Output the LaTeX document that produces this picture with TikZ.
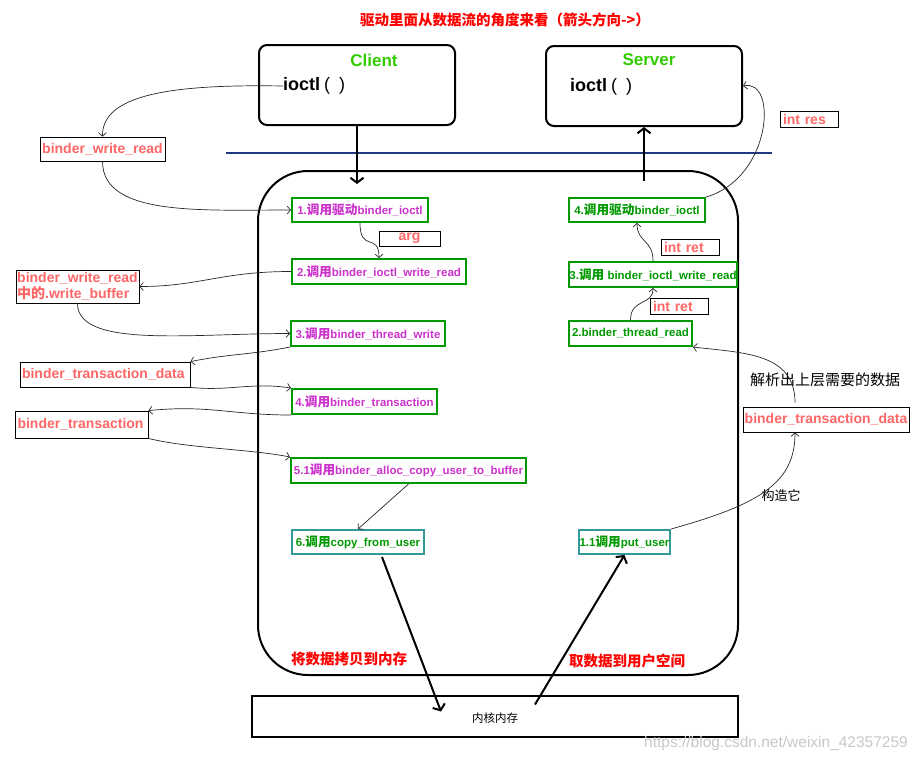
\documentclass[tikz,border=0pt]{standalone}
\usepackage{fontspec}
\setmainfont{Liberation Sans}
\newfontfamily\cjk{Noto Sans CJK SC}
\newfontfamily\cjkbox[Scale=1.1]{Noto Sans CJK SC}
\usetikzlibrary{arrows.meta,calc}
\newcommand{\zh}[1]{{\cjk #1}}
\newcommand{\zb}[1]{{\cjkbox #1}}
\definecolor{lblred}{RGB}{255,102,102}
\definecolor{titlered}{RGB}{255,0,0}
\definecolor{cgreen}{RGB}{51,204,0}
\definecolor{magentatext}{RGB}{204,51,204}
\definecolor{boxgreen}{RGB}{0,153,0}
\definecolor{tealbox}{RGB}{51,153,153}
\definecolor{navyline}{RGB}{31,56,128}
\definecolor{linkgrey}{RGB}{40,40,40}
\definecolor{wmgrey}{RGB}{200,200,200}
\begin{document}
\begin{tikzpicture}[x=1pt,y=-1pt,
  lbl/.style={draw=black, line width=0.8pt, text=lblred, font=\bfseries\fontsize{14}{16}\selectfont, inner sep=0pt},
  smalllbl/.style={draw=black, line width=0.8pt, text=lblred, font=\bfseries\fontsize{14}{14}\selectfont, inner sep=0pt, minimum height=16pt, minimum width=58pt},
  gbox/.style={draw=boxgreen, line width=2pt, font=\bfseries\fontsize{11.5}{13}\selectfont, inner sep=0pt, minimum height=24pt},
  tbox/.style={draw=tealbox, line width=2pt, text=boxgreen, font=\bfseries\fontsize{11.5}{13}\selectfont, inner sep=0pt, minimum height=24pt},
  proc/.style={draw=black, line width=2pt, rounded corners=8pt, minimum width=196pt, minimum height=80pt},
  lnk/.style={draw=linkgrey, line width=0.7pt, -{Straight Barb[length=3.5pt,width=8pt]}},
  bigarrow/.style={draw=black, line width=2pt, -{Straight Barb[length=5pt,width=13pt,line width=2pt]}},
  note/.style={font=\cjk\fontsize{15}{17}\selectfont}
]
\useasboundingbox (0,0) rectangle (921,761);
\fill[white] (0,0) rectangle (921,761);

% title
\node[font=\cjk\bfseries\fontsize{14.5}{16}\selectfont, text=titlered] (title) at (505,20) {驱动里面从数据流的角度来看（箭头方向->）};

% client / server
\node[proc] (client) at (357,85) {};
\node[font=\bfseries\fontsize{17}{19}\selectfont, text=cgreen] (clientT) at (374,60) {Client};
\node[anchor=west, inner sep=0pt, font=\bfseries\fontsize{18}{20}\selectfont] (cioctl) at (283,86) {ioctl\hspace{4pt}{\mdseries(\hspace{9pt})}};
\node[proc] (server) at (644,86) {};
\node[font=\bfseries\fontsize{17}{19}\selectfont, text=cgreen] (serverT) at (649,60) {Server};
\node[anchor=west, inner sep=0pt, font=\bfseries\fontsize{18}{20}\selectfont] (sioctl) at (570,87) {ioctl\hspace{4pt}{\mdseries(\hspace{9pt})}};

% separator
\draw[navyline, line width=2pt] (226,153) -- (772,153);

% kernel space container
\draw[line width=2pt, rounded corners=50pt] (258,171) rectangle (738,675);

% kernel memory
\node[draw, line width=2pt, minimum width=486pt, minimum height=41pt] (kernel) at (495,716.5) {};
\node[font=\cjk\fontsize{11.5}{13}\selectfont] (kernelT) at (495,718) {内核内存};

% left labels
\node[lbl, minimum width=125pt, minimum height=24pt] (bwr) at (102.5,149) {binder\_write\_read};
\node[lbl, minimum width=123pt, minimum height=33pt, align=left] (bwrwb) at (77.5,286.5) {binder\_write\_read\\\zh{中的}.write\_buffer};
\node[lbl, minimum width=170pt, minimum height=25pt, text width=166pt, align=left] (btd) at (105,374.5) {binder\_transaction\_data};
\node[lbl, minimum width=133pt, minimum height=27pt, text width=128pt, align=left] (bt) at (81.5,424.5) {binder\_transaction};

% right labels
\node[lbl, minimum width=166pt, minimum height=25pt] (btd2) at (826,419.5) {binder\_transaction\_data};
\node[smalllbl, text width=52pt, align=left] (ires) at (809,119) {int res};
\node[smalllbl, text width=52pt, align=left] (iret1) at (690,247) {int ret};
\node[smalllbl, text width=52pt, align=left] (iret2) at (679,306) {int ret};
\node[smalllbl, minimum width=61pt, minimum height=15pt] (arg) at (409.5,238.5) {arg};

% left column steps
\node[gbox, text=magentatext, minimum width=136pt] (s1) at (360,210) {1.\zb{调用驱动}binder\_ioctl};
\node[gbox, text=magentatext, minimum width=174pt, minimum height=25pt] (s2) at (379,271.5) {2.\zb{调用}binder\_ioctl\_write\_read};
\node[gbox, text=magentatext, minimum width=154pt, minimum height=25pt] (s3) at (368,333.5) {3.\zb{调用}binder\_thread\_write};
\node[gbox, text=magentatext, minimum width=145pt, minimum height=25pt] (s4) at (364.5,401.5) {4.\zb{调用}binder\_transaction};
\node[gbox, text=magentatext, minimum width=235pt, minimum height=25pt] (s51) at (408.5,470.5) {5.1\zb{调用}binder\_alloc\_copy\_user\_to\_buffer};
\node[tbox, minimum width=132pt] (cfu) at (358,542) {6.\zb{调用}copy\_from\_user};

% right column steps
\node[gbox, text=boxgreen, minimum width=136pt] (s4r) at (637,210) {4.\zb{调用驱动}binder\_ioctl};
\node[gbox, text=boxgreen, minimum width=168pt, minimum height=25pt] (s3r) at (653,274.5) {3.\zb{调用} binder\_ioctl\_write\_read};
\node[gbox, text=boxgreen, minimum width=123pt, minimum height=25pt] (s2r) at (630.5,333.5) {2.binder\_thread\_read};
\node[tbox, minimum width=91pt] (pu) at (624.5,542) {1.1\zb{调用}put\_user};

% notes
\node[note, text=titlered, font=\cjk\bfseries\fontsize{14.5}{16}\selectfont] (copyT) at (349,659) {将数据拷贝到内存};
\node[note, text=titlered, font=\cjk\bfseries\fontsize{14.5}{16}\selectfont] (fetchT) at (627,661) {取数据到用户空间};
\node[note] (parseT) at (825,380) {解析出上层需要的数据};
\node[note, font=\cjk\fontsize{13}{15}\selectfont] (buildT) at (781,496) {构造它};

% watermark
\node[text=wmgrey, font=\fontsize{15.5}{17}\selectfont] (wm) at (776,743) {https://blog.csdn.net/weixin\_42357259};

% coordinates
\coordinate (cin) at (357,184);
\coordinate (sout) at (644,181);
\coordinate (kin) at ($(kernel.center)+(-54,-5)$);
\coordinate (kout) at ($(kernel.center)+(40,-12)$);
\coordinate (cfuout) at ($(cfu.south)+(24,2)$);
\coordinate (btdin) at ($(btd2.south)+(-31,0)$);
\coordinate (btdout) at ($(btd2.north)+(-31,-4)$);

% thick arrows
\draw[bigarrow] (client.south) -- (cin);
\draw[bigarrow] (sout) -- (server.south);
\draw[bigarrow] (cfuout) -- (kin);
\draw[bigarrow] (kout) -- (pu.south);

% thin connectors (client side)
\draw[lnk] (cioctl.west) .. controls (170,84) and (102,95) .. (bwr.north);
\draw[lnk] (bwr.south) .. controls +(0,55) and +(-90,0) .. (s1.west);
\draw[lnk] (s1.south) .. controls +(0,30) and +(0,-26) .. (s2.north);
\draw[lnk] (s2.west) .. controls +(-70,0) and +(60,0) .. (bwrwb.east);
\draw[lnk] (bwrwb.south) .. controls +(0,45) and +(-100,0) .. (s3.west);
\draw[lnk] (s3.south west) .. controls +(-40,8) and +(40,-8) .. (btd.north east);
\draw[lnk] (btd.south east) .. controls +(40,4) and +(-40,-6) .. (s4.north west);
\draw[lnk] (s4.south west) .. controls +(-60,0) and +(60,-6) .. (bt.north east);
\draw[lnk] (bt.south east) .. controls +(40,10) and +(-40,-8) .. (s51.north west);
\draw[lnk] (s51.south) -- (cfu.north);

% thin connectors (server side)
\draw[lnk] (pu.north east) .. controls +(90,-25) and +(0,50) .. (btdin);
\draw[lnk] (btdout) .. controls +(0,-50) and +(50,6) .. (s2r.south east);
\draw[lnk] (s2r.north) .. controls +(0,-22) and +(0,18) .. (s3r.south);
\draw[lnk] (s3r.north) .. controls +(0,-22) and +(0,20) .. (s4r.south);
\draw[lnk] (s4r.north east) .. controls (772,178) and (778,78) .. (server.east);
\end{tikzpicture}
\end{document}
